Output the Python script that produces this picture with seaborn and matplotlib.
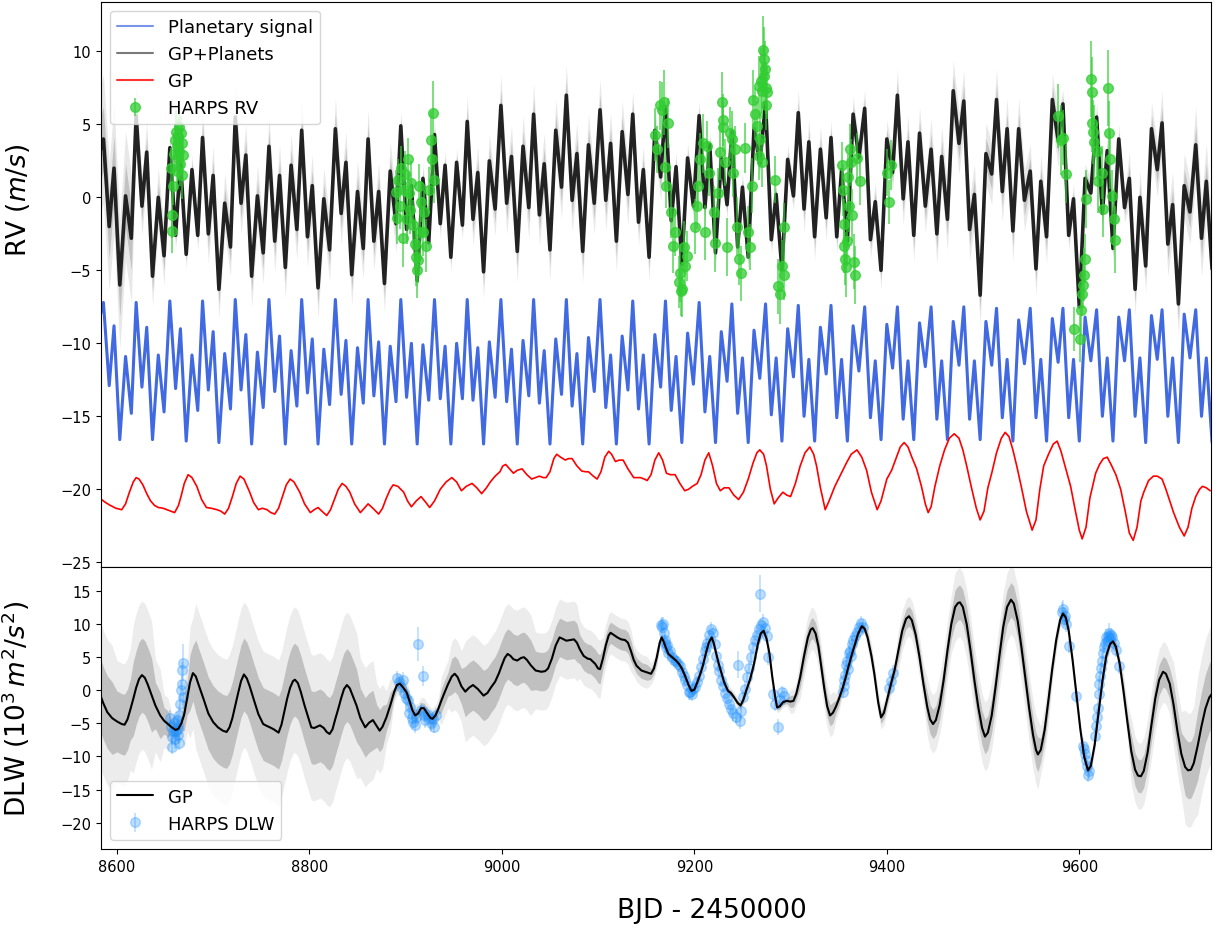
import numpy as np
import matplotlib
matplotlib.use('Agg')
import matplotlib.pyplot as plt
from matplotlib.lines import Line2D
import seaborn as sns

sns.set_style('ticks', {'axes.edgecolor': 'black', 'text.color': 'black',
                        'axes.labelcolor': 'black', 'xtick.color': 'black',
                        'ytick.color': 'black'})
plt.rcParams['font.family'] = ['DejaVu Sans']
plt.rcParams['mathtext.fontset'] = 'dejavusans'

# --- RV panel: planetary signal (extrema, 6 per ~34 d cycle)
planet_t = [8583,
    8586, 8592, 8597, 8603, 8609, 8615,
    8620, 8626, 8631, 8637, 8643, 8649,
    8655, 8661, 8666, 8672, 8678, 8684,
    8689, 8695, 8700, 8706, 8712, 8718,
    8723, 8729, 8734, 8740, 8746, 8752,
    8758, 8764, 8769, 8775, 8781, 8787,
    8792, 8798, 8803, 8809, 8815, 8821,
    8827, 8833, 8838, 8844, 8850, 8856,
    8861, 8867, 8872, 8878, 8884, 8890,
    8895, 8901, 8906, 8912, 8918, 8924,
    8930, 8936, 8941, 8947, 8953, 8959,
    8964, 8970, 8975, 8981, 8987, 8993,
    8999, 9005, 9010, 9016, 9022, 9028,
    9033, 9039, 9044, 9050, 9056, 9062,
    9067, 9073, 9078, 9084, 9090, 9096,
    9102, 9108, 9113, 9119, 9125, 9131,
    9136, 9142, 9147, 9153, 9159, 9165,
    9170, 9176, 9181, 9187, 9193, 9199,
    9205, 9211, 9216, 9222, 9228, 9234,
    9239, 9245, 9250, 9256, 9262, 9268,
    9274, 9280, 9285, 9291, 9297, 9303,
    9308, 9314, 9319, 9325, 9331, 9337,
    9342, 9348, 9353, 9359, 9365, 9371,
    9377, 9383, 9388, 9394, 9400, 9406,
    9411, 9417, 9422, 9428, 9434, 9440,
    9446, 9452, 9457, 9463, 9469, 9475,
    9480, 9486, 9491, 9497, 9503, 9509,
    9514, 9520, 9525, 9531, 9537, 9543,
    9549, 9555, 9560, 9566, 9572, 9578,
    9583, 9589, 9594, 9600, 9606, 9612,
    9618, 9624, 9629, 9635, 9641, 9647,
    9652, 9658, 9663, 9669, 9675, 9681,
    9686, 9692, 9697, 9703, 9709, 9715,
    9721, 9727, 9732, 9738]

planet_rv = [-8.0,
    -7.2, -12.9, -8.8, -16.6, -10.9, -14.8,
    -7.2, -13.0, -8.9, -16.6, -10.8, -14.7,
    -7.1, -13.1, -9.0, -16.7, -10.8, -14.6,
    -7.1, -13.2, -9.2, -16.8, -10.7, -14.5,
    -7.0, -13.2, -9.4, -16.9, -10.6, -14.4,
    -7.0, -13.3, -9.5, -16.9, -10.5, -14.3,
    -7.0, -13.4, -9.7, -16.9, -10.4, -14.2,
    -7.0, -13.5, -9.8, -16.9, -10.3, -14.1,
    -7.0, -13.6, -9.9, -16.9, -10.2, -14.0,
    -7.0, -13.7, -10.0, -16.9, -10.1, -13.9,
    -7.0, -13.8, -10.2, -16.9, -10.0, -13.8,
    -7.0, -13.9, -10.3, -16.9, -9.9, -13.7,
    -7.0, -14.0, -10.4, -16.9, -9.8, -13.6,
    -7.0, -14.1, -10.5, -16.9, -9.7, -13.5,
    -7.0, -14.3, -10.7, -16.9, -9.6, -13.3,
    -7.0, -14.4, -10.8, -16.9, -9.5, -13.2,
    -7.1, -14.5, -10.8, -16.9, -9.4, -13.0,
    -7.1, -14.6, -10.9, -16.8, -9.3, -12.8,
    -7.2, -14.7, -10.9, -16.8, -9.2, -12.6,
    -7.3, -14.8, -11.0, -16.8, -9.1, -12.4,
    -7.3, -14.9, -11.0, -16.7, -9.0, -12.3,
    -7.4, -15.0, -11.1, -16.7, -8.9, -12.1,
    -7.4, -15.1, -11.1, -16.7, -8.8, -11.9,
    -7.5, -15.1, -11.2, -16.6, -8.7, -11.7,
    -7.5, -15.2, -11.2, -16.6, -8.6, -11.6,
    -7.5, -15.2, -11.2, -16.6, -8.5, -11.5,
    -7.5, -15.2, -11.2, -16.6, -8.5, -11.5,
    -7.6, -15.1, -11.1, -16.7, -8.4, -11.4,
    -7.6, -15.1, -11.1, -16.7, -8.3, -11.3,
    -7.6, -15.1, -11.1, -16.7, -8.2, -11.2,
    -7.7, -15.0, -11.0, -16.7, -8.2, -11.2,
    -7.7, -15.0, -11.0, -16.8, -8.1, -11.1,
    -7.7, -15.0, -11.0, -16.8, -8.0, -11.0,
    -7.7, -15.0, -11.0, -16.8]

# GP+Planets model, read at the same times
model_rv = [3.3,
    4.0, -2.0, 2.0, -6.0, 0.1, -2.8,
    5.6, -0.6, 3.1, -5.4, 0.0, -4.0,
    3.4, -2.6, 2.5, -3.9, 1.9, -2.6,
    4.1, -2.5, 1.5, -6.3, -0.4, -3.4,
    5.5, -0.4, 2.9, -5.4, 0.1, -3.8,
    3.5, -3.0, 1.5, -4.8, 2.2, -2.2,
    4.6, -2.7, 0.8, -6.2, -0.1, -3.6,
    4.7, -1.1, 2.4, -5.3, 0.4, -3.5,
    4.0, -3.0, 0.4, -5.9, 1.8, -1.8,
    4.9, -2.2, 0.8, -5.7, 1.3, -3.1,
    4.3, -1.8, 2.2, -4.1, 2.4, -1.9,
    5.2, -1.5, 1.7, -5.1, 2.5, -0.8,
    6.3, -0.4, 2.8, -3.7, 3.5, -0.7,
    5.7, -1.2, 2.3, -3.6, 4.6, 0.7,
    7.0, -0.2, 3.0, -3.7, 3.6, -0.4,
    6.0, -0.2, 3.7, -3.0, 4.5, 0.2,
    5.7, -1.7, 1.9, -4.1, 4.6, 1.4,
    6.2, -1.6, 2.1, -4.6, 2.7, -0.6,
    5.6, -0.7, 3.6, -3.8, 2.7, -0.5,
    4.5, -3.4, 0.7, -4.1, 4.7, 2.3,
    6.5, -2.9, 0.2, -5.0, 2.6, 0.1,
    5.8, -0.8, 3.8, -2.7, 3.3, -1.4,
    4.1, -2.7, 1.9, -3.0, 5.7, 2.7,
    6.1, -2.9, -0.3, -5.0, 4.0, 1.7,
    7.0, -0.1, 3.8, -2.6, 4.4, -0.6,
    3.3, -2.5, 2.8, -1.5, 7.3, 3.7,
    6.6, -2.2, 0.2, -6.7, 3.0, 1.6,
    6.7, 0.4, 4.7, -2.3, 4.7, -0.2,
    1.8, -4.9, 1.1, -2.7, 6.7, 3.9,
    6.4, -2.6, -0.1, -7.5, 1.3, 0.3,
    5.5, -1.1, 3.2, -3.5, 4.0, -0.7,
    1.3, -6.3, 0.0, -4.7, 4.7, 1.9,
    5.1, -3.2, -0.5, -7.3, 0.8, -1.0,
    3.6, -2.8, 1.1, -4.9]

# 1-sigma width of the model band, one value per cycle
model_sig_cycle = [2.2, 1.0, 0.5, 1.0, 1.05, 1.05, 1.05, 1.05, 1.0, 0.5,
                   0.5, 0.9, 1.05, 1.05, 1.05, 1.05, 0.8, 0.5, 0.5, 0.5,
                   0.5, 0.8, 0.6, 0.65, 0.9, 1.05, 1.05, 1.05, 0.9, 0.5,
                   0.5, 0.9, 1.1, 1.3]

# GP (activity) component, shifted down in the plot
gp_t = [8582, 8588, 8593, 8599, 8605, 8609, 8613, 8617, 8620, 8623,
        8627, 8631, 8635, 8639, 8643, 8648, 8652, 8656, 8660, 8664,
        8667, 8670, 8674, 8678, 8683, 8688, 8693, 8698, 8704, 8708,
        8712, 8716, 8720, 8724, 8728, 8732, 8738, 8742, 8747, 8751,
        8756, 8760, 8764, 8768, 8772, 8776, 8780, 8784, 8790, 8795,
        8801, 8805, 8809, 8813, 8818, 8822, 8826, 8830, 8834, 8838,
        8842, 8847, 8853, 8857, 8861, 8866, 8872, 8876, 8880, 8884,
        8887, 8892, 8898, 8902, 8906, 8911, 8916, 8921, 8925, 8930,
        8936, 8942, 8948, 8953, 8958, 8963, 8969, 8974, 8979, 8984,
        8988, 8993, 8998, 9001, 9004, 9008, 9012, 9016, 9021, 9026,
        9031, 9035, 9039, 9043, 9046, 9050, 9054, 9057, 9061, 9066,
        9069, 9073, 9078, 9083, 9087, 9090, 9095, 9099, 9103, 9107,
        9111, 9114, 9118, 9122, 9126, 9131, 9137, 9144, 9148, 9151,
        9155, 9159, 9163, 9167, 9171, 9175, 9180, 9185, 9190, 9194,
        9198, 9203, 9207, 9211, 9215, 9219, 9223, 9227, 9231, 9236,
        9241, 9246, 9251, 9256, 9261, 9265, 9268, 9272, 9275, 9279,
        9283, 9287, 9292, 9296, 9300, 9305, 9310, 9315, 9320, 9324,
        9327, 9331, 9336, 9340, 9346, 9352, 9358, 9363, 9369, 9374,
        9379, 9384, 9390, 9394, 9400, 9405, 9410, 9414, 9418, 9422,
        9426, 9431, 9436, 9440, 9443, 9446, 9450, 9455, 9460, 9465,
        9470, 9475, 9479, 9483, 9488, 9493, 9497, 9501, 9505, 9509,
        9514, 9519, 9523, 9527, 9531, 9535, 9540, 9545, 9551, 9555,
        9559, 9563, 9568, 9573, 9577, 9581, 9586, 9591, 9596, 9600,
        9603, 9607, 9611, 9617, 9621, 9625, 9629, 9633, 9638, 9643,
        9648, 9652, 9656, 9660, 9664, 9667, 9672, 9677, 9681, 9686,
        9690, 9694, 9698, 9704, 9709, 9713, 9717, 9721, 9725, 9728,
        9732, 9736]
gp_rv = [-20.6, -20.9, -21.1, -21.3, -21.4, -21.0, -20.2, -19.5, -19.2, -19.3,
         -19.7, -20.3, -20.8, -21.1, -21.25, -21.3, -21.4, -21.5, -21.6, -21.1,
         -20.4, -19.6, -19.0, -19.2, -19.8, -20.7, -21.25, -21.3, -21.4, -21.5,
         -21.7, -21.3, -20.5, -19.6, -19.1, -19.3, -20.2, -20.9, -21.4, -21.3,
         -21.4, -21.6, -21.7, -21.3, -20.5, -19.7, -19.3, -19.5, -20.2, -21.0,
         -21.6, -21.4, -21.25, -21.5, -21.8, -21.4, -20.7, -20.0, -19.6, -19.8,
         -20.2, -21.0, -21.6, -21.3, -21.0, -21.3, -21.7, -21.3, -20.6, -20.0,
         -19.7, -19.8, -20.2, -20.8, -21.2, -20.8, -20.5, -20.9, -21.25, -20.8,
         -20.0, -19.5, -19.2, -19.5, -20.1, -19.8, -19.6, -19.9, -20.3, -19.9,
         -19.5, -19.1, -18.8, -18.4, -18.3, -18.6, -18.9, -18.7, -18.6, -19.0,
         -19.3, -19.2, -19.1, -19.2, -19.2, -18.8, -17.9, -17.6, -17.8, -18.0,
         -17.9, -17.9, -18.4, -18.75, -18.8, -18.8, -19.1, -19.3, -18.8, -17.8,
         -17.4, -17.6, -18.1, -18.0, -18.0, -18.6, -19.2, -19.2, -19.3, -19.4,
         -19.0, -18.0, -17.5, -18.0, -18.9, -19.0, -19.0, -19.6, -20.1, -20.0,
         -19.8, -19.6, -19.0, -18.0, -17.5, -18.4, -19.6, -20.1, -19.9, -19.9,
         -20.4, -20.7, -20.2, -19.3, -18.2, -17.5, -17.3, -17.6, -18.4, -20.0,
         -21.0, -20.6, -20.2, -20.4, -20.5, -19.6, -18.4, -17.5, -17.1, -17.6,
         -18.4, -19.9, -21.4, -20.8, -19.8, -19.0, -18.2, -17.6, -17.3, -17.8,
         -18.7, -20.2, -21.4, -20.8, -19.3, -18.7, -17.8, -17.1, -16.8, -17.1,
         -17.8, -18.6, -19.8, -21.0, -21.6, -21.2, -19.8, -18.4, -17.3, -16.5,
         -16.2, -16.5, -17.3, -18.4, -19.9, -21.3, -22.1, -21.5, -19.9, -18.9,
         -17.5, -16.5, -16.1, -16.4, -17.3, -18.4, -19.9, -21.5, -22.8, -22.1,
         -20.0, -18.4, -17.6, -16.9, -16.7, -17.4, -18.6, -19.8, -21.5, -22.8,
         -23.4, -22.6, -20.6, -18.9, -18.3, -17.9, -17.8, -18.3, -19.0, -20.0,
         -21.6, -23.0, -23.5, -22.6, -20.8, -20.2, -19.4, -19.1, -19.1, -19.3,
         -20.0, -20.8, -21.6, -22.6, -23.2, -22.6, -21.3, -20.5, -20.0, -19.8,
         -19.9, -20.1]

# HARPS RV measurements
rv_t = [8656, 8657, 8657.5, 8658, 8659, 8660, 8661, 8662, 8662.5, 8663,
        8664, 8664.5, 8665, 8666, 8667, 8667.5, 8668, 8669,
        8890, 8891, 8892, 8894, 8895, 8897, 8898, 8899, 8901, 8902,
        8903, 8905, 8906, 8908, 8910, 8911, 8912, 8913, 8914, 8915,
        8916, 8918, 8919, 8921, 8924, 8926, 8927, 8928, 8929,
        9159, 9161, 9164, 9166, 9168, 9170, 9171, 9173, 9176, 9178,
        9180, 9184, 9185, 9186, 9187, 9189, 9190, 9192, 9201, 9203,
        9204, 9206, 9209, 9211, 9213, 9215, 9220, 9221, 9225, 9227,
        9229, 9229.5, 9230, 9232, 9234, 9237, 9239, 9240, 9242, 9244,
        9246, 9248, 9253, 9256, 9258, 9260, 9261, 9263, 9265, 9267,
        9267.5, 9268, 9269, 9270, 9270.5, 9271, 9272, 9272.5, 9273, 9274,
        9274.5, 9275, 9284, 9287, 9289, 9291, 9293, 9293.5,
        9353, 9354, 9355, 9356, 9357, 9358, 9359, 9360, 9361, 9362,
        9363, 9364, 9366, 9367, 9369, 9372,
        9400, 9402, 9404,
        9578, 9581, 9583, 9586,
        9594, 9601, 9602, 9603, 9604, 9605, 9606, 9607,
        9612, 9613, 9613.5, 9614, 9615, 9618, 9619, 9624, 9625, 9630,
        9631, 9632, 9634, 9636, 9637]
rv_v = [2.0, -1.2, -2.3, 0.8, 3.0, 3.9, 4.5, 1.8, 3.5, 2.7,
        4.2, 3.2, 4.8, 2.3, 4.4, 3.7, 1.5, 2.9,
        0.4, -1.4, 1.2, -0.6, 2.0, -2.8, 0.5, 1.6, -1.5, 2.6,
        0.3, -0.9, 1.0, -1.9, -3.2, -4.1, -5.0, -4.3, 0.8, -2.4,
        -0.3, -2.4, -1.0, -3.3, 0.5, 3.9, 2.6, 5.8, 1.2,
        4.3, 3.3, 6.3, 6.0, 6.5, 2.1, 0.8, 5.1, -1.0, -3.3,
        -2.4, -5.8, -5.2, -6.4, -6.3, -3.4, -4.7, -4.0, -2.0, -0.6,
        0.8, 2.6, 3.7, -2.4, 3.5, 1.7, -1.0, -3.1, 0.3, 3.1,
        6.5, 5.3, 4.8, 2.4, -3.4, 4.4, 4.0, 1.7, 3.3, -2.0,
        -4.2, -5.2, 3.4, -2.4, -3.4, 0.8, 6.7, 5.7, 4.9, 7.6,
        2.8, 4.0, 8.0, 7.3, 2.4, 10.1, 8.3, 9.5, 8.8, 7.5,
        6.3, 7.2, 1.2, -6.1, -6.6, -4.7, -5.3, -2.0,
        2.2, 0.5, -1.8, -3.3, -4.2, -4.8, -3.0, 1.4, -0.6, 3.3,
        2.4, -1.2, -4.4, -5.3, 2.7, 1.1,
        1.7, -0.3, 2.2,
        5.6, 3.9, 4.1, 1.6,
        -9.0, -9.7, -7.7, -6.6, -6.0, -5.3, -4.2, -0.1,
        8.1, 7.2, 5.1, 4.5, 3.8, 3.2, 1.1, 1.7, -0.8, 7.5,
        4.4, 2.6, 0.1, -1.5, -2.9]
rv_e = [1.4, 1.6, 1.5, 1.3, 1.4, 1.2, 1.5, 1.3, 1.4, 1.6,
        1.2, 1.4, 1.3, 1.5, 1.2, 1.4, 1.6, 1.3,
        1.5, 1.8, 1.4, 1.6, 1.5, 2.0, 1.4, 1.6, 1.7, 1.5,
        1.4, 1.6, 1.5, 1.7, 1.8, 2.0, 1.9, 1.6, 1.5, 1.7,
        1.4, 1.6, 1.5, 1.8, 1.6, 2.0, 1.7, 2.2, 1.6,
        1.8, 1.6, 1.7, 1.9, 2.2, 1.6, 1.5, 1.7, 1.8, 1.9,
        1.6, 1.8, 2.0, 1.7, 1.9, 1.8, 1.6, 1.7, 1.9, 1.6,
        1.7, 1.8, 2.0, 1.9, 1.7, 1.6, 1.8, 2.0, 1.7, 1.9,
        2.1, 1.8, 1.7, 1.6, 2.0, 1.8, 1.9, 1.7, 1.6, 2.0,
        1.8, 1.9, 1.7, 1.8, 1.6, 1.9, 2.0, 1.8, 1.7, 2.1,
        1.6, 1.8, 2.2, 1.9, 1.7, 2.3, 2.0, 2.2, 1.9, 1.8,
        1.7, 1.8, 1.6, 1.9, 2.1, 1.8, 1.7, 1.6,
        1.6, 1.8, 1.7, 1.9, 1.8, 2.0, 1.7, 1.6, 1.8, 1.7,
        1.6, 1.8, 1.9, 2.0, 1.7, 1.6,
        1.6, 1.5, 1.7,
        2.2, 2.4, 1.9, 2.0,
        1.5, 1.6, 1.7, 1.5, 1.6, 1.8, 1.7, 2.0,
        2.6, 2.4, 2.0, 2.2, 2.5, 1.9, 2.2, 1.8, 1.9, 2.6,
        2.2, 2.0, 1.8, 2.1, 2.3]

# --- DLW panel: GP mean
dlw_t = [8583, 8586, 8590, 8595, 8600, 8605, 8608, 8611, 8614, 8617,
         8620, 8623, 8626, 8629, 8632, 8636, 8640, 8645, 8649, 8653,
         8657, 8661, 8664, 8667, 8670, 8673, 8676, 8679, 8682, 8685,
         8690, 8695, 8700, 8705, 8710, 8714, 8717, 8720, 8723, 8726,
         8729, 8732, 8735, 8738, 8742, 8747, 8752, 8756, 8759, 8763,
         8768, 8771, 8774, 8777, 8780, 8783, 8785, 8788, 8791, 8795,
         8799, 8802, 8805, 8808, 8811, 8815, 8818, 8821, 8824, 8827,
         8830, 8833, 8836, 8839, 8842, 8845, 8849, 8853, 8858, 8862,
         8866, 8870, 8873, 8876, 8880, 8884, 8888, 8891, 8894, 8897,
         8901, 8904, 8907, 8910, 8913, 8916, 8919, 8923, 8926, 8928,
         8931, 8934, 8937, 8940, 8944, 8948, 8951, 8954, 8958, 8962,
         8966, 8970, 8975, 8981, 8985, 8989, 8993, 8997, 9000, 9003,
         9006, 9009, 9012, 9016, 9020, 9023, 9026, 9030, 9035, 9041,
         9045, 9048, 9052, 9056, 9060, 9063, 9067, 9071, 9075, 9078,
         9081, 9085, 9089, 9092, 9097, 9100, 9102, 9105, 9108, 9111,
         9113, 9116, 9120, 9124, 9128, 9131, 9134, 9137, 9140, 9145,
         9151, 9155, 9158, 9161, 9164, 9166, 9168, 9170, 9173, 9177,
         9181, 9184, 9187, 9190, 9194, 9197, 9200, 9203, 9206, 9209,
         9212, 9215, 9218, 9220, 9222, 9225, 9227, 9231, 9235, 9238,
         9241, 9245, 9248, 9251, 9254, 9258, 9262, 9266, 9269, 9272,
         9275, 9278, 9281, 9284, 9286, 9289, 9292, 9296, 9300, 9303,
         9306, 9310, 9314, 9318, 9321, 9323, 9326, 9329, 9332, 9335,
         9338, 9341, 9344, 9347, 9350, 9354, 9357, 9360, 9364, 9367,
         9370, 9374, 9377, 9380, 9384, 9387, 9391, 9394, 9397, 9401,
         9404, 9408, 9412, 9416, 9420, 9423, 9426, 9430, 9434, 9438,
         9442, 9445, 9448, 9451, 9455, 9459, 9463, 9467, 9471, 9474,
         9476, 9479, 9483, 9487, 9491, 9495, 9499, 9502, 9505, 9509,
         9513, 9517, 9521, 9525, 9529, 9532, 9536, 9540, 9544, 9548,
         9552, 9555, 9557, 9560, 9564, 9568, 9572, 9576, 9580, 9583,
         9586, 9589, 9593, 9597, 9601, 9605, 9609, 9612, 9616, 9620,
         9624, 9628, 9632, 9635, 9638, 9642, 9646, 9650, 9654, 9658,
         9661, 9664, 9667, 9671, 9675, 9679, 9683, 9687, 9690, 9694,
         9698, 9702, 9706, 9710, 9713, 9716, 9719, 9723, 9727, 9731,
         9735, 9739]
dlw_gp = [-0.8, -2.0, -3.3, -4.2, -4.7, -5.1, -5.2, -4.4, -2.9, -1.3,
          0.4, 1.7, 2.3, 1.9, 0.9, -0.7, -2.3, -3.8, -4.6, -5.1,
          -5.6, -6.0, -5.8, -5.0, -3.6, -1.2, 1.2, 2.6, 2.1, 0.8,
          -1.3, -3.5, -4.8, -5.6, -6.1, -6.3, -5.6, -4.2, -2.3, -0.4,
          1.4, 2.4, 1.8, 0.6, -1.3, -3.6, -5.1, -5.4, -5.6, -5.9,
          -6.4, -5.2, -3.2, -1.2, 0.4, 1.4, 1.6, 1.1, -0.2, -2.3,
          -4.2, -5.6, -5.7, -5.5, -5.3, -5.7, -6.3, -6.6, -5.9, -4.3,
          -2.8, -1.2, 0.2, 0.8, 0.3, -0.8, -2.3, -4.2, -5.6, -4.9,
          -4.5, -5.4, -6.1, -5.5, -4.1, -2.3, -0.3, 0.8, 1.0, 0.5,
          -0.3, -1.6, -3.0, -3.8, -3.5, -2.7, -2.7, -3.6, -4.2, -4.3,
          -3.8, -2.8, -1.6, -0.5, 0.9, 2.1, 2.5, 2.0, 0.6, -0.2,
          0.4, 0.8, 0.2, -0.8, -0.4, 0.5, 1.3, 2.6, 3.8, 4.9,
          5.5, 5.2, 4.7, 4.5, 4.9, 5.0, 4.6, 3.8, 3.0, 2.8,
          2.9, 3.3, 4.8, 6.8, 8.0, 7.8, 7.5, 7.6, 7.7, 7.2,
          6.2, 5.2, 4.8, 4.7, 4.0, 3.3, 3.2, 4.8, 6.8, 8.3,
          8.7, 8.4, 8.0, 7.7, 7.6, 7.2, 6.0, 4.6, 3.7, 3.0,
          2.7, 2.5, 3.3, 5.0, 7.2, 8.0, 7.4, 6.6, 5.5, 5.0,
          4.5, 4.0, 3.3, 2.3, 0.8, -0.1, 0.1, 1.2, 2.4, 3.8,
          5.6, 7.2, 8.0, 7.2, 6.0, 4.2, 3.2, 1.2, -0.1, -0.4,
          -1.0, -1.9, -2.3, -1.4, 0.0, 1.7, 4.0, 7.0, 8.6, 9.0,
          7.8, 5.6, 2.0, -1.0, -2.6, -2.4, -1.8, -1.6, -1.7, -1.6,
          -0.5, 2.0, 5.2, 8.0, 9.2, 9.4, 8.6, 6.6, 3.5, 0.3,
          -2.4, -3.8, -3.4, -2.5, -1.4, 0.3, 1.8, 3.5, 5.6, 7.0,
          8.5, 9.7, 9.3, 8.0, 5.2, 2.5, -1.8, -4.1, -3.4, -1.0,
          0.8, 3.0, 6.0, 9.0, 10.8, 11.2, 10.6, 8.4, 5.0, 1.0,
          -2.5, -4.4, -5.1, -4.5, -2.2, 1.5, 6.0, 10.0, 12.6, 13.2,
          13.3, 12.6, 10.0, 6.0, 1.5, -2.5, -5.7, -7.0, -6.4, -3.8,
          0.5, 5.2, 9.6, 12.6, 13.7, 13.1, 10.5, 6.4, 1.8, -2.8,
          -6.8, -9.0, -9.7, -9.0, -6.0, -1.4, 3.4, 7.6, 10.6, 11.6,
          11.0, 9.0, 4.6, -0.6, -5.8, -10.0, -12.1, -11.4, -8.2, -3.4,
          1.4, 5.2, 7.0, 7.4, 6.6, 4.0, -0.2, -4.8, -9.2, -12.0,
          -12.9, -13.0, -12.2, -9.4, -5.2, -1.2, 1.6, 2.8, 2.5, 1.0,
          -2.2, -6.2, -9.6, -11.6, -12.1, -12.0, -11.0, -8.4, -5.4, -2.8,
          -1.1, -0.3]

# 1-sigma width of the DLW GP band, read segment by segment
dlw_sig_edges = [8600, 8615, 8640, 8648, 8654, 8670, 8676, 8682, 8850, 8870,
                 8880, 8888, 8936, 8945, 8960, 9035, 9080, 9105, 9135, 9152,
                 9162, 9298, 9308, 9345, 9352, 9378, 9410, 9440, 9470, 9560,
                 9572, 9580, 9645, 9652, 9680, 9698, 9708, 9720]
dlw_sig_vals = [5.5, 4.6, 5.6, 3.5, 2.0, 1.1, 2.5, 4.2, 5.5, 4.5,
                3.2, 2.0, 0.8, 1.8, 2.7, 3.8, 2.9, 2.2, 1.6, 1.2,
                0.8, 0.4, 0.9, 1.6, 1.0, 0.5, 0.9, 1.5, 2.2, 2.6,
                1.8, 1.0, 0.6, 1.3, 2.5, 2.3, 3.2, 4.3, 5.2]

# HARPS DLW measurements
dlw_pt_t = [8655, 8656, 8657, 8657.5, 8658, 8659, 8660, 8661, 8662, 8663,
            8663.5, 8664, 8664.5, 8665, 8666, 8667, 8667.5, 8668, 8668.5, 8669,
            8891, 8893, 8895, 8897, 8898, 8900, 8902, 8904, 8905, 8907,
            8908, 8910, 8911, 8913, 8918, 8916, 8919, 8920, 8922, 8924,
            8926, 8928, 8930, 8932,
            9165, 9166, 9167, 9168, 9169, 9170, 9171, 9172, 9173, 9175,
            9177, 9179, 9181, 9183, 9185, 9187, 9189, 9190, 9192, 9194,
            9196, 9198, 9199, 9201, 9203, 9205, 9207, 9209, 9211, 9212,
            9213, 9215, 9217, 9219, 9221, 9223, 9225, 9226, 9228, 9230,
            9232, 9234, 9236, 9238, 9240, 9243, 9245, 9247, 9249, 9251,
            9253, 9255, 9257, 9259, 9261, 9263, 9265, 9267, 9268, 9269,
            9271, 9273, 9275, 9277, 9282, 9284, 9287, 9289, 9291, 9293,
            9354, 9355, 9356, 9357, 9358, 9359, 9360, 9361, 9362, 9363,
            9364, 9365, 9367, 9369, 9371, 9373, 9375,
            9402, 9404, 9406,
            9582, 9583, 9584, 9585, 9586, 9589,
            9597, 9604, 9605, 9606, 9607, 9608, 9609, 9610,
            9616, 9617, 9618, 9619, 9620, 9621, 9622, 9623, 9624, 9625,
            9626, 9627, 9628, 9629, 9630, 9631, 9632, 9633, 9634, 9636,
            9638, 9641]
dlw_pt_v = [-4.2, -5.5, -7.0, -8.5, -6.2, -5.0, -7.4, -6.1, -4.5, -5.8,
            -5.2, -6.7, -7.9, -3.8, -2.0, 0.0, 1.0, 3.0, -1.0, 4.2,
            1.8, 1.2, 0.5, 1.6, -0.4, -1.2, -1.5, -3.4, -2.5, -4.2,
            -4.8, -5.3, -4.0, 7.0, 2.2, -3.0, -3.8, -4.5, -3.6, -4.2,
            -5.0, -4.4, -5.5, -3.8,
            9.8, 9.5, 10.0, 8.6, 7.6, 7.2, 6.5, 6.8, 5.6, 5.9,
            5.0, 4.6, 4.4, 4.0, 3.6, 2.8, 2.2, 1.6, 0.8, -0.2,
            -0.3, -0.6, 0.2, 0.5, 1.2, 2.2, 3.5, 4.8, 6.0, 6.6,
            7.2, 8.4, 9.3, 8.6, 7.0, 5.2, 3.8, 2.9, 1.6, 0.6,
            -0.4, -1.2, -2.0, -2.8, -3.5, -4.0, 3.9, -4.6, -3.2, -1.0,
            0.2, 2.0, 3.4, 5.0, 6.6, 7.6, 8.4, 9.2, 14.6, 9.8,
            10.4, 9.4, 8.2, 5.1, -0.6, -2.1, -5.6, -1.5, -0.3, -0.9,
            -0.2, 0.6, 1.6, 2.3, 3.8, 4.5, 3.2, 5.6, 6.0, 5.2,
            7.0, 7.6, 8.2, 8.8, 9.6, 10.2, 9.6,
            0.3, 1.4, 2.6,
            11.8, 12.3, 10.8, 11.2, 10.0, 6.7,
            -0.8, -8.4, -8.9, -9.6, -10.6, -11.5, -12.8, -12.2,
            -6.9, -5.4, -4.0, -2.6, -0.5, 1.0, 2.2, 3.3, 4.5, 5.6,
            6.6, 7.2, 8.0, 7.5, 8.2, 8.7, 7.9, 8.4, 8.0, 7.2,
            6.1, 3.6]
dlw_pt_e = [1.2, 1.0, 1.3, 1.1, 1.2, 1.0, 1.4, 1.1, 1.2, 1.0,
            1.1, 1.3, 1.2, 1.4, 1.2, 1.5, 1.1, 1.3, 1.2, 2.8,
            1.1, 1.0, 1.2, 1.1, 1.0, 1.2, 1.1, 1.0, 1.2, 1.1,
            1.0, 1.2, 1.1, 2.6, 1.5, 1.1, 1.0, 1.2, 1.1, 1.0,
            1.2, 1.1, 1.0, 1.2,
            1.2, 1.6, 1.1, 1.0, 1.2, 1.1, 1.0, 1.2, 1.1, 1.0,
            1.2, 1.1, 1.0, 1.2, 1.1, 1.0, 1.2, 1.1, 1.0, 1.2,
            1.1, 1.0, 1.2, 1.1, 1.0, 1.2, 1.1, 1.0, 1.2, 1.1,
            1.0, 1.2, 1.1, 1.0, 1.2, 1.1, 1.0, 1.2, 1.1, 1.0,
            1.2, 1.1, 1.0, 1.2, 1.1, 1.0, 2.0, 1.2, 1.1, 1.0,
            1.2, 1.1, 1.0, 1.2, 1.1, 1.0, 1.2, 1.1, 2.8, 1.0,
            1.2, 1.1, 1.0, 1.2, 1.1, 1.0, 1.2, 1.1, 1.0, 1.2,
            1.0, 1.2, 1.1, 1.0, 1.2, 1.1, 1.0, 1.2, 1.1, 1.0,
            1.2, 1.1, 1.0, 1.2, 1.1, 1.0, 1.2,
            1.1, 1.0, 1.2,
            1.5, 1.3, 1.2, 1.4, 1.2, 1.1,
            1.1, 1.2, 1.0, 1.1, 1.2, 1.0, 1.1, 1.2,
            1.2, 1.0, 1.1, 1.2, 1.0, 1.1, 1.2, 1.0, 1.1, 1.2,
            1.0, 1.1, 1.2, 1.0, 1.1, 1.5, 1.2, 1.0, 1.1, 1.2,
            1.0, 1.1]

# ------------------------------------------------------------------
fig, (ax1, ax2) = plt.subplots(2, 1, sharex=True, figsize=(12.16, 9.28), dpi=100,
                               gridspec_kw={'height_ratios': [2, 1], 'hspace': 0})
fig.subplots_adjust(left=0.083, right=0.996, top=0.997, bottom=0.084)

# model band: one sigma value per cycle spread over its six extrema
sig_c = np.array(model_sig_cycle)
model_sig = np.concatenate([[sig_c[0]], np.repeat(sig_c[:33], 6), [sig_c[33]] * 4])
mod = np.array(model_rv)

ax1.fill_between(planet_t, mod - 2 * model_sig, mod + 2 * model_sig, color='#e8e8e8', lw=0, zorder=1)
ax1.fill_between(planet_t, mod - model_sig, mod + model_sig, color='#c2c2c2', lw=0, zorder=1)
sns.lineplot(x=planet_t, y=model_rv, ax=ax1, color='#222222', lw=2.6,
             estimator=None, sort=False, legend=False, zorder=2)
sns.lineplot(x=planet_t, y=planet_rv, ax=ax1, color='royalblue', lw=2.2,
             estimator=None, sort=False, legend=False, zorder=2)
sns.lineplot(x=gp_t, y=gp_rv, ax=ax1, color='red', lw=1.2,
             estimator=None, sort=False, legend=False, zorder=2)
rv_pts = ax1.errorbar(rv_t, rv_v, yerr=rv_e, fmt='o', color='limegreen', ms=7,
                      alpha=0.75, elinewidth=1.2, capsize=0, zorder=4)

ax1.set_ylim(-25.3, 13.4)
ax1.set_ylabel(r'RV ($m/s$)', fontsize=19)
ax1.yaxis.set_label_coords(-0.062, 0.65)
handles = [Line2D([], [], color='royalblue', alpha=0.7, lw=1.5),
           Line2D([], [], color='#7a7a7a', lw=1.5),
           Line2D([], [], color='red', alpha=0.8, lw=1.5),
           rv_pts]
ax1.legend(handles, ['Planetary signal', 'GP+Planets', 'GP', 'HARPS RV'],
           loc='upper left', fontsize=13)

# DLW panel
dg = np.array(dlw_gp)
ds = np.array(dlw_sig_vals)[np.searchsorted(dlw_sig_edges, dlw_t, side='right')]
ax2.fill_between(dlw_t, dg - 2 * ds, dg + 2 * ds, color='#ececec', lw=0, zorder=1)
ax2.fill_between(dlw_t, dg - ds, dg + ds, color='#c0c0c0', lw=0, zorder=1)
dlw_pts = ax2.errorbar(dlw_pt_t, dlw_pt_v, yerr=dlw_pt_e, fmt='o', color='dodgerblue',
                       ms=7, alpha=0.3, elinewidth=1.2, capsize=0, zorder=3)
sns.lineplot(x=dlw_t, y=dlw_gp, ax=ax2, color='black', lw=1.5,
             estimator=None, sort=False, legend=False, zorder=4)

ax2.set_ylim(-24, 18.7)
ax2.set_xlim(8583.4, 9737)
ax2.set_ylabel(r'DLW ($10^3\,m^2/s^2$)', fontsize=19)
ax2.yaxis.set_label_coords(-0.062, 0.5)
ax2.set_xlabel('BJD - 2450000', fontsize=19)
ax2.xaxis.set_label_coords(0.55, -0.17)
ax2.legend([Line2D([], [], color='black', lw=1.5), dlw_pts], ['GP', 'HARPS DLW'],
           loc='lower left', fontsize=13)

for ax in (ax1, ax2):
    ax.tick_params(labelsize=10.5)

fig.savefig('out.png', dpi=100)
